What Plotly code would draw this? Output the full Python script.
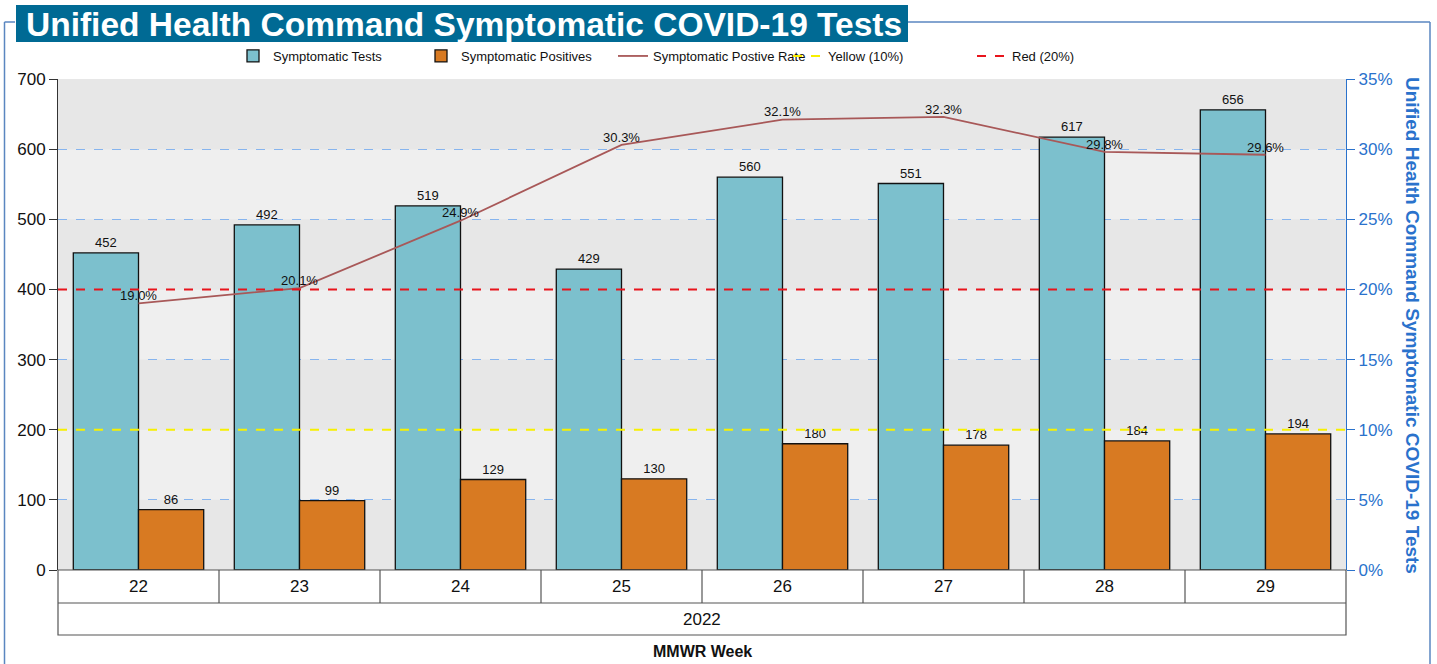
import plotly.graph_objects as go

weeks = ["22", "23", "24", "25", "26", "27", "28", "29"]
tests = [452, 492, 519, 429, 560, 551, 617, 656]
positives = [86, 99, 129, 130, 180, 178, 184, 194]
rate = [0.190, 0.201, 0.249, 0.303, 0.321, 0.323, 0.298, 0.296]
rate_labels = ["19.0%", "20.1%", "24.9%", "30.3%", "32.1%", "32.3%", "29.8%", "29.6%"]
yellow_level = 0.10
red_level = 0.20
year_label = "2022"
left_ticks = [0, 100, 200, 300, 400, 500, 600, 700]
right_ticks = [0, 0.05, 0.10, 0.15, 0.20, 0.25, 0.30, 0.35]

FONT = "Liberation Sans, Arial, sans-serif"
W, H = 1437, 664
L, R, T, B = 58, 1346, 79, 570
PW, PH = R - L, B - T


def px(x):
    return (x - L) / PW


def py(y):
    return (B - y) / PH


fig = go.Figure()

fig.add_trace(go.Bar(
    x=weeks, y=tests, name="Symptomatic Tests", legend="legend",
    marker=dict(color="#7cc0cd", line=dict(color="#111111", width=1.3)),
    text=[str(v) for v in tests], textposition="outside",
    textfont=dict(size=13, color="#111111", family=FONT), cliponaxis=False,
))
fig.add_trace(go.Bar(
    x=weeks, y=positives, name="Symptomatic Positives", legend="legend2",
    marker=dict(color="#d87a22", line=dict(color="#111111", width=1.3)),
    text=[str(v) for v in positives], textposition="outside",
    textfont=dict(size=13, color="#111111", family=FONT), cliponaxis=False,
))
fig.add_trace(go.Scatter(
    x=weeks, y=rate, name="Symptomatic Postive Rate", yaxis="y2", legend="legend3",
    mode="lines+text", line=dict(color="#a85858", width=1.8),
    text=rate_labels, textposition="top center",
    textfont=dict(size=13, color="#111111", family=FONT), cliponaxis=False,
))
fig.add_trace(go.Scatter(
    x=[0, 1], y=[yellow_level, yellow_level], name="Yellow (10%)", legend="legend4",
    xaxis="x2", yaxis="y2", mode="lines",
    line=dict(color="#f7f000", width=2, dash="dash"),
))
fig.add_trace(go.Scatter(
    x=[0, 1], y=[red_level, red_level], name="Red (20%)", legend="legend5",
    xaxis="x2", yaxis="y2", mode="lines",
    line=dict(color="#e8141c", width=2, dash="dash"),
))

shapes = []
band_colors = ["#e7e7e7", "#efefef"]
for i in range(len(left_ticks) - 1):
    shapes.append(dict(type="rect", xref="paper", yref="y", x0=0, x1=1,
                       y0=left_ticks[i], y1=left_ticks[i + 1],
                       fillcolor=band_colors[i % 2], line=dict(width=0),
                       layer="below"))

n = len(weeks)
row1 = py(603)
row2 = py(635)
tbl_line = dict(color="#555555", width=1.2)
shapes.append(dict(type="rect", xref="paper", yref="paper", x0=0, x1=1,
                   y0=row2, y1=0, line=tbl_line, fillcolor="rgba(0,0,0,0)"))
shapes.append(dict(type="line", xref="paper", yref="paper", x0=0, x1=1,
                   y0=row1, y1=row1, line=tbl_line))
for i in range(1, n):
    shapes.append(dict(type="line", xref="paper", yref="paper", x0=i / n, x1=i / n,
                       y0=row1, y1=0, line=tbl_line))

frame = dict(color="#5a86c0", width=1.5)
shapes.append(dict(type="line", xref="paper", yref="paper", x0=px(4.5), x1=px(4.5),
                   y0=py(22), y1=py(680), line=frame))
shapes.append(dict(type="line", xref="paper", yref="paper", x0=px(4.5), x1=px(15),
                   y0=py(22), y1=py(22), line=frame))
shapes.append(dict(type="line", xref="paper", yref="paper", x0=px(908), x1=px(1430),
                   y0=py(22), y1=py(22), line=frame))
shapes.append(dict(type="line", xref="paper", yref="paper", x0=px(1430), x1=px(1430),
                   y0=py(22), y1=py(680), line=frame))
shapes.append(dict(type="rect", xref="paper", yref="paper", x0=px(16), x1=px(908),
                   y0=py(42), y1=py(5), fillcolor="#006a94", line=dict(width=0)))

annotations = [
    dict(text="<b>Unified Health Command Symptomatic COVID-19 Tests</b>",
         xref="paper", yref="paper", x=px(24), y=py(24), xanchor="left", yanchor="middle",
         showarrow=False, font=dict(size=33.5, color="white", family=FONT)),
    dict(text=year_label, xref="paper", yref="paper", x=0.5, y=(row1 + row2) / 2,
         xanchor="center", yanchor="middle", showarrow=False,
         font=dict(size=17, color="#111111", family=FONT)),
    dict(text="<b>MMWR Week</b>", xref="paper", yref="paper", x=0.5, y=py(651),
         xanchor="center", yanchor="middle", showarrow=False,
         font=dict(size=16, color="#111111", family=FONT)),
    dict(text="<b>Unified Health Command Symptomatic COVID-19 Tests</b>",
         xref="paper", yref="paper", x=px(1413), y=py(325), xanchor="center", yanchor="middle",
         textangle=90, showarrow=False,
         font=dict(size=19, color="#2a72cc", family=FONT)),
]


def legend_at(text_x):
    return dict(orientation="h", x=px(text_x - 40), y=py(56), xanchor="left", yanchor="middle",
                font=dict(size=13, family=FONT, color="#111111"),
                bgcolor="rgba(0,0,0,0)", itemwidth=30)


fig.update_layout(
    width=W, height=H,
    margin=dict(l=L, r=W - R, t=T, b=H - B),
    paper_bgcolor="white", plot_bgcolor="#e7e7e7",
    font=dict(family=FONT, color="#111111"),
    barmode="group", bargap=0.19, bargroupgap=0,
    showlegend=True,
    legend=legend_at(273),
    legend2=legend_at(461),
    legend3=legend_at(653),
    legend4=legend_at(828),
    legend5=legend_at(1012),
    xaxis=dict(type="category", showgrid=False, ticks="", showline=False,
               tickfont=dict(size=17, color="#111111", family=FONT),
               ticklabelstandoff=4, zeroline=False),
    xaxis2=dict(overlaying="x", range=[0, 1], visible=False, anchor="y2"),
    yaxis=dict(range=[0, 700], tickvals=left_ticks, showgrid=True,
               gridcolor="#86b4ee", griddash="dash", gridwidth=1,
               showline=True, linecolor="#333333", linewidth=1,
               ticks="outside", ticklen=8, tickcolor="#333333",
               tickfont=dict(size=17, color="#111111", family=FONT), zeroline=False),
    yaxis2=dict(overlaying="y", side="right", range=[0, 0.35], tickvals=right_ticks,
                tickformat=".0%", showgrid=False, showline=True,
                linecolor="#2a72cc", linewidth=1.2, ticks="outside", ticklen=8,
                tickcolor="#2a72cc", zeroline=False,
                tickfont=dict(size=17, color="#2a72cc", family=FONT)),
    shapes=shapes, annotations=annotations,
)

fig.write_html("out.html", config={"displayModeBar": False},
               post_script="document.body.style.margin='0';")
